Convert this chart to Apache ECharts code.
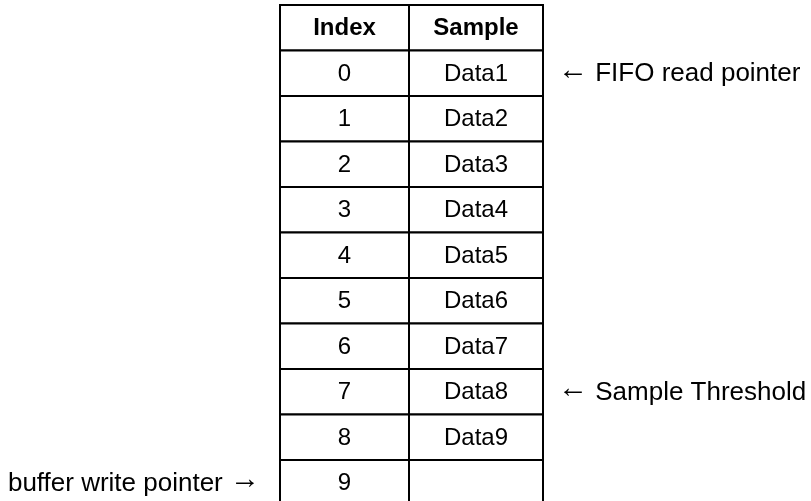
<!DOCTYPE html>
<html>
<head>
<meta charset="utf-8">
<script src="https://cdn.jsdelivr.net/npm/echarts@6/dist/echarts.min.js"></script>
<style>
  html, body { margin: 0; padding: 0; background: #fff; }
  #chart { width: 811px; height: 501px; }
</style>
</head>
<body>
<div id="chart"></div>
<script>
// table content
const headers = ['Index', 'Sample'];
const indices = ['0', '1', '2', '3', '4', '5', '6', '7', '8', '9'];
const samples = ['Data1', 'Data2', 'Data3', 'Data4', 'Data5', 'Data6', 'Data7', 'Data8', 'Data9', ''];

// pointer notes: row index (0 = first data row), side and text
const noteRows = [0, 7, 9];
const noteSides = ['right', 'right', 'left'];
const noteTexts = ['{arr|\u2190} FIFO read pointer', '{arr|\u2190} Sample Threshold', 'buffer write pointer {arr|\u2192}'];

const FONT = '"Liberation Sans", Arial, sans-serif';
const COL_SPLIT = 0.4905; // where the Index column ends (x axis runs 0..1)
const ROWS = indices.length + 1;

const cells = [];
headers.forEach((h, c) => cells.push([0, c, h, 1]));
indices.forEach((v, r) => {
  cells.push([r + 1, 0, v, 0]);
  cells.push([r + 1, 1, samples[r], 0]);
});

const notes = noteRows.map((r, i) => [r + 1, noteSides[i] === 'right' ? 1 : 0, noteTexts[i]]);

const chart = echarts.init(document.getElementById('chart'), null, { renderer: 'canvas' });

chart.setOption({
  backgroundColor: '#ffffff',
  animation: false,
  grid: { left: 280, top: 5, width: 263, height: 500.5, outerBoundsMode: 'none', containLabel: false },
  xAxis: { type: 'value', min: 0, max: 1, show: false },
  yAxis: { type: 'value', min: 0, max: ROWS, inverse: true, show: false },
  series: [
    {
      type: 'custom',
      data: cells,
      clip: false,
      renderItem: function (params, api) {
        const r = api.value(0);
        const c = api.value(1);
        const x0 = c === 0 ? 0 : COL_SPLIT;
        const x1 = c === 0 ? COL_SPLIT : 1;
        const p0 = api.coord([x0, r]);
        const p1 = api.coord([x1, r + 1]);
        const text = cells[params.dataIndex][2];
        const bold = api.value(3) === 1;
        return {
          type: 'group',
          children: [
            {
              type: 'rect',
              shape: { x: p0[0], y: p0[1], width: p1[0] - p0[0], height: p1[1] - p0[1] },
              style: { fill: '#ffffff', stroke: '#000000', lineWidth: 2 }
            },
            {
              type: 'text',
              style: {
                x: (p0[0] + p1[0]) / 2,
                y: (p0[1] + p1[1]) / 2 + 1,
                text: text,
                align: 'center',
                verticalAlign: 'middle',
                fill: '#000000',
                font: (bold ? 'bold ' : '') + '24px ' + FONT
              }
            }
          ]
        };
      }
    },
    {
      type: 'custom',
      data: notes,
      clip: false,
      renderItem: function (params, api) {
        const r = api.value(0);
        const side = api.value(1);
        const p = api.coord([side, r + 0.5]);
        const text = notes[params.dataIndex][2];
        return {
          type: 'text',
          style: {
            x: side === 1 ? p[0] + 15 : p[0] - 20,
            y: p[1] + 1,
            text: text,
            align: side === 1 ? 'left' : 'right',
            verticalAlign: 'middle',
            fill: '#000000',
            fontSize: 26,
            fontFamily: FONT,
            rich: {
              arr: { fontSize: 30, fontFamily: FONT, fill: '#000000', padding: [0, 0, 8, 0] }
            }
          }
        };
      }
    }
  ]
});
</script>
</body>
</html>
